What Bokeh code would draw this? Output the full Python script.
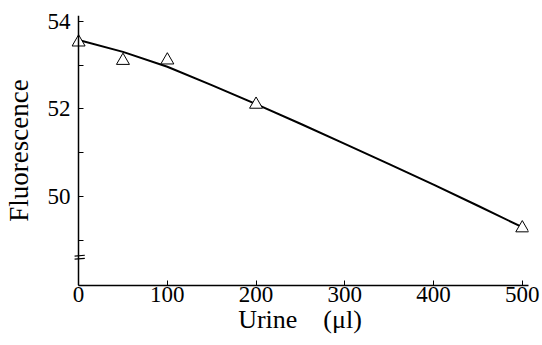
from bokeh.plotting import figure
from bokeh.models import Range1d, FixedTicker, LinearAxis
from bokeh.embed import file_html
from bokeh.resources import INLINE

# measured points
urine = [0, 50, 100, 200, 500]
fluor = [53.52, 53.10, 53.11, 52.10, 49.28]

# fitted curve
curve_x = [0, 50, 100, 150, 200, 250, 300, 350, 400, 450, 500]
curve_y = [53.57, 53.30, 52.96, 52.54, 52.11, 51.66, 51.20, 50.74, 50.27, 49.79, 49.30]

x_ticks = [0, 100, 200, 300, 400, 500]
y_ticks = [50, 52, 54]
y_minor = [49, 51, 53]

p = figure(width=542, height=345, output_backend="svg", toolbar_location=None,
           x_range=Range1d(-8, 507), y_range=Range1d(47.97, 54.13),
           min_border_left=71, min_border_right=14, min_border_top=15, min_border_bottom=60)
p.outline_line_color = None
p.xgrid.visible = False
p.ygrid.visible = False
p.background_fill_color = "white"

font = "Liberation Serif"

p.xaxis.ticker = FixedTicker(ticks=x_ticks)
p.xaxis.bounds = (0, 507)
p.xaxis.major_tick_in = 5
p.xaxis.major_tick_out = 0
p.xaxis.minor_tick_line_color = None
p.xaxis.major_label_text_font = font
p.xaxis.major_label_text_font_size = "23px"
p.xaxis.major_label_text_color = "black"
p.xaxis.major_label_standoff = 1
p.xaxis.axis_label = "Urine\u2003(\u03bcl)"
p.xaxis.axis_label_text_font = font
p.xaxis.axis_label_text_font_size = "26px"
p.xaxis.axis_label_text_color = "black"
p.xaxis.axis_label_text_font_style = "normal"
p.xaxis.axis_label_standoff = 0
p.xaxis.axis_line_width = 1.5
p.xaxis.axis_line_color = "black"

# left axis: labels and title only
p.yaxis.ticker = FixedTicker(ticks=y_ticks, minor_ticks=y_minor)
p.yaxis.axis_line_color = None
p.yaxis.major_tick_line_color = None
p.yaxis.minor_tick_line_color = None
p.yaxis.major_tick_in = 0
p.yaxis.major_tick_out = 0
p.yaxis.minor_tick_in = 0
p.yaxis.minor_tick_out = 0
p.yaxis.major_label_text_font = font
p.yaxis.major_label_text_font_size = "23px"
p.yaxis.major_label_text_color = "black"
p.yaxis.major_label_standoff = 1
p.yaxis.axis_label = "Fluorescence"
p.yaxis.axis_label_text_font = font
p.yaxis.axis_label_text_font_size = "27px"
p.yaxis.axis_label_text_color = "black"
p.yaxis.axis_label_text_font_style = "normal"
p.yaxis.axis_label_standoff = 11

# axis line and ticks at x = 0
ax0 = LinearAxis(fixed_location=0,
                 ticker=FixedTicker(ticks=y_ticks, minor_ticks=y_minor),
                 major_label_text_font_size="0px",
                 major_tick_in=5, major_tick_out=0,
                 minor_tick_in=5, minor_tick_out=0,
                 axis_line_width=1.5, axis_line_color="black",
                 major_tick_line_color="black", minor_tick_line_color="black")
ax0.major_label_overrides = {t: "" for t in y_ticks}
p.add_layout(ax0, "left")

p.line(curve_x, curve_y, line_color="black", line_width=2)
p.scatter(urine, fluor, marker="triangle", size=13, fill_color="white",
          line_color="black", line_width=1)

# axis break marks
p.segment(x0=[-4.5, -4.5], y0=[48.64, 48.57], x1=[7, 7], y1=[48.66, 48.59],
          line_color="black", line_width=1.2)

open("out.html", "w").write(file_html(p, INLINE))
